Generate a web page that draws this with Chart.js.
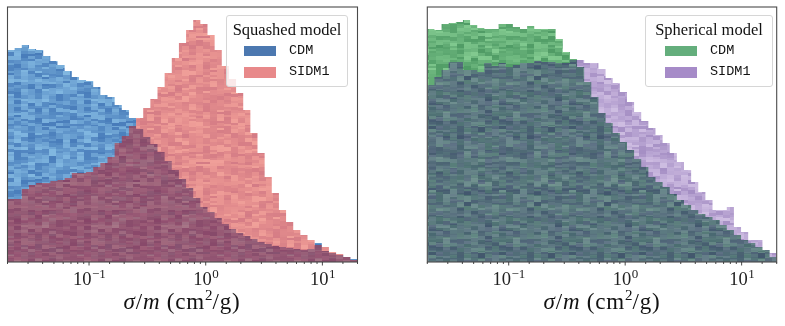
<!DOCTYPE html>
<html>
<head>
<meta charset="utf-8">
<script src="https://cdn.jsdelivr.net/npm/chart.js@4/dist/chart.umd.min.js"></script>
<style>
body{margin:0;background:#fff;}
#fig{position:relative;width:785px;height:326px;overflow:hidden;}
.panel{position:absolute;top:0;width:370px;height:326px;}
.panel canvas{position:absolute;left:0;top:0;}
.box{position:absolute;box-sizing:border-box;background:rgba(255,255,255,0.8);border:1px solid #d6d6d6;border-radius:3px;}
.ttl{position:absolute;font-family:"Liberation Serif",serif;font-size:16.5px;line-height:16px;white-space:nowrap;transform:translateX(-50%);color:#111;}
.sw{position:absolute;width:32px;height:10px;}
.lab{position:absolute;font-family:"Liberation Mono",monospace;font-size:13.5px;line-height:14px;color:#111;}
.xlab{position:absolute;top:289px;text-align:center;font-family:"Liberation Serif",serif;font-size:23px;line-height:26px;letter-spacing:0.8px;color:#111;white-space:nowrap;}
.xlab sup{font-size:15px;line-height:0;vertical-align:9px;letter-spacing:0;}
</style>
</head>
<body>
<div id="fig">
  <div class="panel" style="left:0">
    <canvas id="squashed" width="370" height="326"></canvas>
    <div class="box" style="left:226px;top:15px;width:122px;height:72px"></div>
    <div class="ttl" style="left:287px;top:22px">Squashed model</div>
    <div class="sw" style="left:244px;top:46px;background:#4c78b0"></div>
    <div class="lab" style="left:289px;top:44px">CDM</div>
    <div class="sw" style="left:244px;top:67px;height:11px;background:#e8898a"></div>
    <div class="lab" style="left:289px;top:65px">SIDM1</div>
    <div class="xlab" style="left:7px;width:350px"><i>σ</i>/<i>m</i>&nbsp;(cm<sup>2</sup>/g)</div>
  </div>
  <div class="panel" style="left:415px">
    <canvas id="spherical" width="370" height="326"></canvas>
    <div class="box" style="left:230px;top:15px;width:128px;height:72px"></div>
    <div class="ttl" style="left:294px;top:22px">Spherical model</div>
    <div class="sw" style="left:250px;top:46px;background:#64ae7c"></div>
    <div class="lab" style="left:295px;top:44px">CDM</div>
    <div class="sw" style="left:250px;top:67px;height:11px;background:#a68bc8"></div>
    <div class="lab" style="left:295px;top:65px">SIDM1</div>
    <div class="xlab" style="left:12px;width:350px"><i>σ</i>/<i>m</i>&nbsp;(cm<sup>2</sup>/g)</div>
  </div>
</div>
<script>
"use strict";

/* histogram bins (log spaced) */
const binMin = 0.02;
const binMax = 20;
const nBins = 49;
const yTop = 255;

/* counts per bin (arbitrary units) */
const squashedCdm = [
  212, 214, 217, 213, 212, 206, 201, 197, 191, 185,
  182, 181, 175, 167, 165, 157, 152, 144, 133, 125,
  118, 110, 101, 92, 83, 74, 64, 55, 50, 44,
  38, 33, 29, 26, 23, 20, 18, 16, 15, 14,
  13, 12, 13, 19, 11, 9, 7, 5, 3
];
const squashedSidm = [
  63, 63, 73, 77, 79, 79, 81, 82, 84, 89,
  89, 90, 95, 99, 105, 119, 126, 136, 144, 154,
  163, 175, 189, 204, 219, 232, 242, 238, 227, 212,
  196, 183, 169, 152, 129, 109, 85, 69, 52, 40,
  32, 27, 22, 17, 15, 10, 8, 5, 2
];
const sphericalCdm = [
  233, 232, 238, 239, 240, 242, 237, 234, 233, 233,
  238, 238, 235, 233, 236, 233, 233, 233, 223, 210,
  203, 195, 180, 165, 149, 139, 129, 120, 112, 103,
  95, 85, 80, 75, 68, 62, 57, 52, 48, 45,
  42, 37, 32, 27, 22, 19, 15, 12, 5
];
const sphericalSidm = [
  177, 185, 192, 200, 200, 192, 192, 190, 199, 196,
  199, 195, 197, 199, 199, 201, 200, 200, 199, 199,
  202, 202, 199, 199, 193, 184, 179, 170, 160, 150,
  141, 134, 127, 119, 109, 100, 92, 80, 70, 62,
  52, 52, 55, 35, 30, 22, 22, 12, 9
];

const edges = [];
for(let i = 0; i <= nBins; i++){
    edges.push(binMin * Math.pow(binMax / binMin, i / nBins));
}

function steps(values){
    const pts = values.map(function(v, i){ return { x: edges[i], y: v }; });
    pts.push({ x: edges[nBins], y: values[nBins - 1] });
    return pts;
}

/* streaky fill, like many overlaid translucent histograms */
function hash(n){
    const s = Math.sin(n * 12.9898 + 78.233) * 43758.5453;
    return s - Math.floor(s);
}

function streaks(c1, c2, a1, a2, seed){
    const tile = document.createElement("canvas");
    tile.width = 70;
    tile.height = 126;
    const g = tile.getContext("2d");
    for(let col = 0; col < 10; col++){
        let y = -Math.floor(hash(seed + col * 7.7) * 3);
        let row = 0;
        while(y < tile.height){
            const h = 2 + Math.floor(hash(seed + col * 31.1 + row * 3.7) * 3);
            const t = hash(seed + col * 13.3 + row * 5.9 + 0.5);
            const c = c1.map(function(v, k){ return Math.round(v + (c2[k] - v) * t); });
            const a = a1 + (a2 - a1) * (1 - t);
            g.fillStyle = "rgba(" + c.join(",") + "," + a.toFixed(3) + ")";
            g.fillRect(col * 7, y, 7, h);
            y += h;
            row++;
        }
    }
    return g.createPattern(tile, "repeat");
}

/* frame, log ticks and 10^n labels */
const axisDecor = {
    id: "axisDecor",
    afterDraw(chart){
        const ctx = chart.ctx;
        const a = chart.chartArea;
        const x = chart.scales.x;
        ctx.save();
        ctx.strokeStyle = "#4a4a4a";
        ctx.lineWidth = 1.1;
        ctx.strokeRect(a.left, a.top, a.right - a.left, a.bottom - a.top);
        ctx.strokeStyle = "#333";
        ctx.lineWidth = 0.9;
        x.ticks.forEach(function(t){
            const px = x.getPixelForValue(t.value);
            const e = Math.log10(t.value);
            const major = Math.abs(e - Math.round(e)) < 1e-6;
            ctx.beginPath();
            ctx.moveTo(px, a.bottom);
            ctx.lineTo(px, a.bottom + (major ? 3.5 : 2));
            ctx.stroke();
            if(major){
                const base = "10";
                const p = Math.round(e);
                const sup = p < 0 ? "\u2212" + Math.abs(p) : String(p);
                ctx.font = '18.5px "Liberation Serif", serif';
                const w1 = ctx.measureText(base).width;
                ctx.font = '13px "Liberation Serif", serif';
                const w2 = ctx.measureText(sup).width;
                const left = px - (w1 + w2) / 2;
                ctx.fillStyle = "#222";
                ctx.textBaseline = "alphabetic";
                ctx.textAlign = "left";
                ctx.font = '18.5px "Liberation Serif", serif';
                ctx.fillText(base, left, a.bottom + 23);
                ctx.font = '13px "Liberation Serif", serif';
                ctx.fillText(sup, left + w1 + 0.5, a.bottom + 16);
            }
        });
        ctx.restore();
    }
};

function makeChart(id, pad, series){
    return new Chart(document.getElementById(id), {
        type: "line",
        data: {
            datasets: series.map(function(s){
                return {
                    label: s.label,
                    data: steps(s.values),
                    stepped: "before",
                    fill: "origin",
                    backgroundColor: s.color,
                    borderColor: "rgba(0,0,0,0)",
                    borderWidth: 0,
                    pointRadius: 0,
                    order: s.order
                };
            })
        },
        options: {
            responsive: false,
            animation: false,
            devicePixelRatio: 1,
            layout: { padding: pad },
            plugins: {
                legend: { display: false },
                tooltip: { enabled: false }
            },
            scales: {
                x: {
                    type: "logarithmic",
                    min: binMin,
                    max: binMax,
                    grid: { display: false },
                    border: { display: false },
                    ticks: { display: false, autoSkip: false },
                    afterFit: function(scale){ scale.height = 64; }
                },
                y: { display: false, min: 0, max: yTop }
            }
        },
        plugins: [axisDecor]
    });
}

makeChart("squashed", { left: 7.5, right: 12.5, top: 7, bottom: 0 }, [
    { label: "CDM", values: squashedCdm, color: streaks([72, 124, 186], [130, 184, 225], 1, 1, 1), order: 2 },
    { label: "SIDM1", values: squashedSidm, color: streaks([180, 25, 42], [220, 28, 12], 0.42, 0.57, 2), order: 1 }
]);

makeChart("spherical", { left: 12.3, right: 8.3, top: 7, bottom: 0 }, [
    { label: "CDM", values: sphericalCdm, color: streaks([78, 154, 100], [130, 202, 144], 1, 1, 3), order: 2 },
    { label: "SIDM1", values: sphericalSidm, color: streaks([50, 0, 120], [80, 20, 150], 0.28, 0.44, 4), order: 1 }
]);
</script>
</body>
</html>
